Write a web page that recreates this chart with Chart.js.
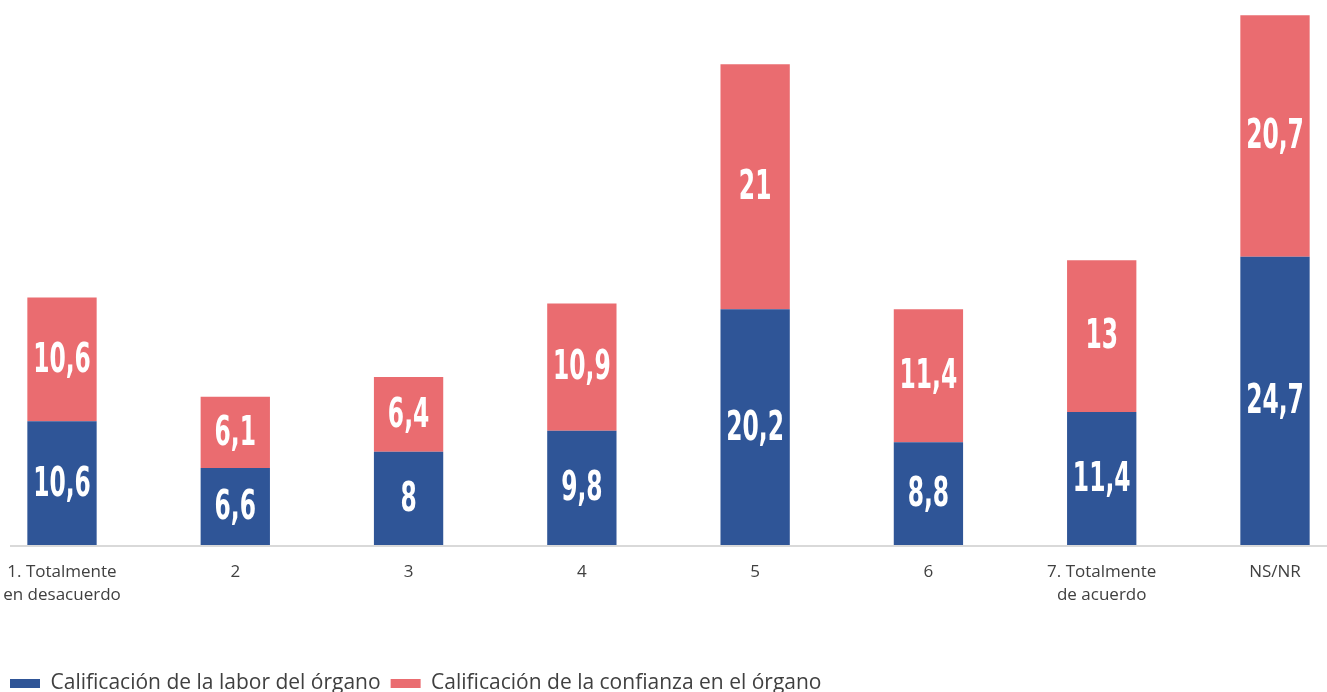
<!DOCTYPE html>
<html>
<head>
<meta charset="utf-8">
<script src="https://cdn.jsdelivr.net/npm/chart.js@4/dist/chart.umd.min.js"></script>
<style>
  html, body { margin: 0; padding: 0; background: #fff; }
  #wrap { width: 1327px; height: 692px; }
</style>
</head>
<body>
<div id="wrap"><canvas id="chart"></canvas></div>
<script>
const categories = [
  ["1. Totalmente", "en desacuerdo"], "2", "3", "4", "5", "6",
  ["7. Totalmente", "de acuerdo"], "NS/NR"
];
const laborValues = [10.6, 6.6, 8, 9.8, 20.2, 8.8, 11.4, 24.7];
const confianzaValues = [10.6, 6.1, 6.4, 10.9, 21, 11.4, 13, 20.7];
const seriesNames = [
  "Calificación de la labor del órgano",
  "Calificación de la confianza en el órgano"
];

// etiquetas blancas dentro de cada segmento
const valueLabels = {
  id: "valueLabels",
  afterDatasetsDraw(chart) {
    const ctx = chart.ctx;
    ctx.save();
    ctx.fillStyle = "#ffffff";
    ctx.font = "bold 40px 'DejaVu Sans Condensed', 'DejaVu Sans', sans-serif";
    ctx.textAlign = "center";
    ctx.textBaseline = "middle";
    chart.data.datasets.forEach((ds, i) => {
      chart.getDatasetMeta(i).data.forEach((bar, j) => {
        const txt = String(ds.data[j]).replace(".", ",");
        const cy = (bar.y + bar.base) / 2 + 2;
        ctx.save();
        ctx.translate(bar.x, cy);
        ctx.scale(0.65, 1);
        ctx.fillText(txt, 0, 0);
        ctx.restore();
      });
    });
    ctx.restore();
  }
};

// línea del eje x
const baseLine = {
  id: "baseLine",
  beforeDatasetsDraw(chart) {
    const ctx = chart.ctx;
    const y = chart.scales.y.getPixelForValue(0) + 1;
    ctx.save();
    ctx.strokeStyle = "#d9d9d9";
    ctx.lineWidth = 2;
    ctx.beginPath();
    ctx.moveTo(10, y);
    ctx.lineTo(chart.width, y);
    ctx.stroke();
    ctx.restore();
  }
};

const ctx = document.getElementById("chart");
new Chart(ctx, {
  type: "bar",
  data: {
    labels: categories,
    datasets: [
      {
        label: seriesNames[0],
        data: laborValues,
        backgroundColor: "#2f5597",
        clip: false,
        categoryPercentage: 1,
        barPercentage: 0.4,
      },
      {
        label: seriesNames[1],
        data: confianzaValues,
        backgroundColor: "#ea6c70",
        clip: false,
        categoryPercentage: 1,
        barPercentage: 0.4,
      },
    ],
  },
  options: {
    responsive: true,
    maintainAspectRatio: false,
    animation: false,
    layout: { padding: { top: 0, right: 52, bottom: -12, left: 0 } },
    scales: {
      x: {
        stacked: true,
        offset: false,
        grid: { display: false },
        border: { display: false },
        ticks: {
          color: "#404040",
          padding: 7,
          maxRotation: 0,
          autoSkip: false,
          font: { family: "'Open Sans', sans-serif", size: 17, lineHeight: 1.38 },
        },
        afterFit(scale) {
          scale.paddingLeft = 0;
          scale.paddingRight = 0;
          scale.height = 118;
        },
      },
      y: {
        stacked: true,
        min: 0,
        max: 46.7,
        grid: { display: false },
        border: { display: false },
        ticks: { display: false },
        afterFit(scale) { scale.width = 62; },
      },
    },
    plugins: {
      legend: {
        position: "bottom",
        align: "start",
        labels: {
          color: "#404040",
          boxWidth: 30,
          boxHeight: 9,
          padding: 10,
          font: { family: "'Open Sans', sans-serif", size: 21, lineHeight: 1.086 },
        },
      },
      tooltip: { enabled: false },
    },
  },
  plugins: [valueLabels, baseLine],
});
</script>
</body>
</html>
